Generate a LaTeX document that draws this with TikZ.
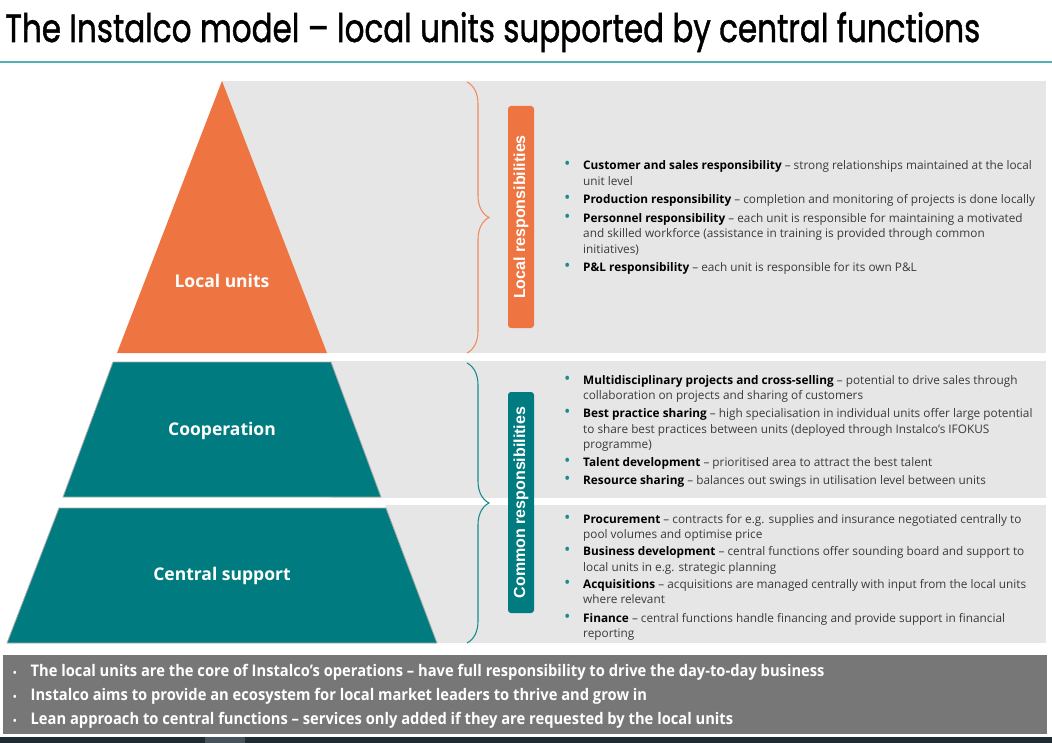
\documentclass[tikz,border=0pt]{standalone}
\usepackage{fontspec}
\setmainfont{Open Sans}
\newfontfamily\titlefont[FakeBold=1.3]{Poppins}
\newfontfamily\labelfont{Liberation Sans}
\newfontfamily\barfont[FakeStretch=0.92]{Open Sans}
\usetikzlibrary{decorations.pathreplacing}
\definecolor{orng}{HTML}{EE7541}
\definecolor{orngbr}{HTML}{F28C5E}
\definecolor{tealc}{HTML}{007C80}
\definecolor{tealbr}{HTML}{1A8C8E}
\definecolor{panel}{HTML}{E6E6E6}
\definecolor{rule}{HTML}{4DB3B6}
\definecolor{bar}{HTML}{777777}
\definecolor{txt}{HTML}{3A3A3A}
\definecolor{bul}{HTML}{1A8C8E}
\definecolor{foot}{HTML}{1E2B33}
\definecolor{footl}{HTML}{46535C}
\newcommand\hd[1]{\textbf{\color{black}#1}}
\newcommand\bu{\textcolor{bul}{\fontsize{17}{15}\selectfont\textbullet}}
\tikzset{
  panelbox/.style={fill=panel, draw=none},
  tier/.style={fill=tealc, draw=gray!65, line width=0.8pt},
  tierlabel/.style={text=white, font=\fontsize{17.5}{20}\selectfont\bfseries, inner sep=0},
  vlabel/.style={rounded corners=3pt, minimum width=26pt, inner sep=0},
  vtext/.style={rotate=90, text=white, inner sep=0, font=\labelfont\fontsize{16}{19}\selectfont\bfseries},
  bracestyle/.style={decorate, decoration={brace, amplitude=22pt}, line width=1.1pt},
  bodytext/.style={anchor=base west, inner sep=0, text=txt, font=\fontsize{11.8}{15.5}\selectfont},
  bartext/.style={anchor=base west, inner sep=0, text=white, font=\barfont\fontsize{16}{24}\selectfont\bfseries}
}
\begin{document}
\begin{tikzpicture}[x=1pt, y=-1pt]
\useasboundingbox (0,0) rectangle (1052,743);
\fill[white] (0,0) rectangle (1052,743);
% title
\node[anchor=base west, inner sep=0] (title) at (5,42)
  {\resizebox{975pt}{30pt}{\titlefont The Instalco model – local units supported by central functions}};
\fill[rule] (0,61) rectangle (1052,63);
% panels
\fill[panelbox] (222,81) rectangle (1046,353);
\fill[panelbox] (331,361) rectangle (1046,498);
\fill[panelbox] (386,505) rectangle (1046,643);
% pyramid
\fill[orng] (222,81) -- (327,353) -- (117,353) -- cycle;
\draw[tier] (113,362) -- (331,362) -- (381,497) -- (63,497) -- cycle;
\draw[tier] (59,508) -- (386,508) -- (437,643) -- (7,643) -- cycle;
\node[tierlabel] (lu) at (222,281) {Local units};
\node[tierlabel] (co) at (222,431) {Cooperation};
\node[tierlabel] (cs) at (222,576) {Central support};
% braces
\draw[bracestyle, orngbr] (467,82) -- (467,353);
\draw[bracestyle, tealbr] (467,363) -- (467,643);
% vertical labels
\node[vlabel, fill=orng, minimum height=222pt] (lr) at (521,217) {};
\node[vtext] (lrt) at (lr.center) {Local responsibilities};
\node[vlabel, fill=tealc, minimum height=221pt] (cr) at (521,502.5) {};
\node[vtext] (crt) at (cr.center) {Common responsibilities};
% body text
\node[bodytext] (t1) at (564,170) {%
\begin{tabular}[t]{@{}p{19pt}@{}l@{}}
\bu & \hd{Customer and sales responsibility} – strong relationships maintained at the local\\
 & unit level\\[3pt]
\bu & \hd{Production responsibility} – completion and monitoring of projects is done locally\\[3pt]
\bu & \hd{Personnel responsibility} – each unit is responsible for maintaining a motivated\\
 & and skilled workforce (assistance in training is provided through common\\
 & initiatives)\\[3pt]
\bu & \hd{P\&L responsibility} – each unit is responsible for its own P\&L
\end{tabular}};
\node[bodytext] (t2) at (564,384) {%
\begin{tabular}[t]{@{}p{19pt}@{}l@{}}
\bu & \hd{Multidisciplinary projects and cross-selling} – potential to drive sales through\\
 & collaboration on projects and sharing of customers\\[2.5pt]
\bu & \hd{Best practice sharing} – high specialisation in individual units offer large potential\\
 & to share best practices between units (deployed through Instalco’s IFOKUS\\
 & programme)\\[2.5pt]
\bu & \hd{Talent development} – prioritised area to attract the best talent\\[2.5pt]
\bu & \hd{Resource sharing} – balances out swings in utilisation level between units
\end{tabular}};
\node[bodytext] (t3) at (564,523) {%
\begin{tabular}[t]{@{}p{19pt}@{}l@{}}
\bu & \hd{Procurement} – contracts for e.g. supplies and insurance negotiated centrally to\\
 & pool volumes and optimise price\\[1.5pt]
\bu & \hd{Business development} – central functions offer sounding board and support to\\
 & local units in e.g. strategic planning\\[1.5pt]
\bu & \hd{Acquisitions} – acquisitions are managed centrally with input from the local units\\
 & where relevant\\[3pt]
\bu & \hd{Finance} – central functions handle financing and provide support in financial\\
 & reporting
\end{tabular}};
% bottom bar
\fill[bar] (3,655) rectangle (1047,734);
\node[bartext] (b1) at (13,676) {{\fontsize{10}{12}\selectfont\textbullet}\hspace{14pt}The local units are the core of Instalco’s operations – have full responsibility to drive the day-to-day business};
\node[bartext] (b2) at (13,700) {{\fontsize{10}{12}\selectfont\textbullet}\hspace{14pt}Instalco aims to provide an ecosystem for local market leaders to thrive and grow in};
\node[bartext] (b3) at (13,724) {{\fontsize{10}{12}\selectfont\textbullet}\hspace{14pt}Lean approach to central functions – services only added if they are requested by the local units};
% footer strip
\fill[foot] (0,737) rectangle (1052,743);
\fill[footl] (205,737) rectangle (245,743);
\end{tikzpicture}
\end{document}
